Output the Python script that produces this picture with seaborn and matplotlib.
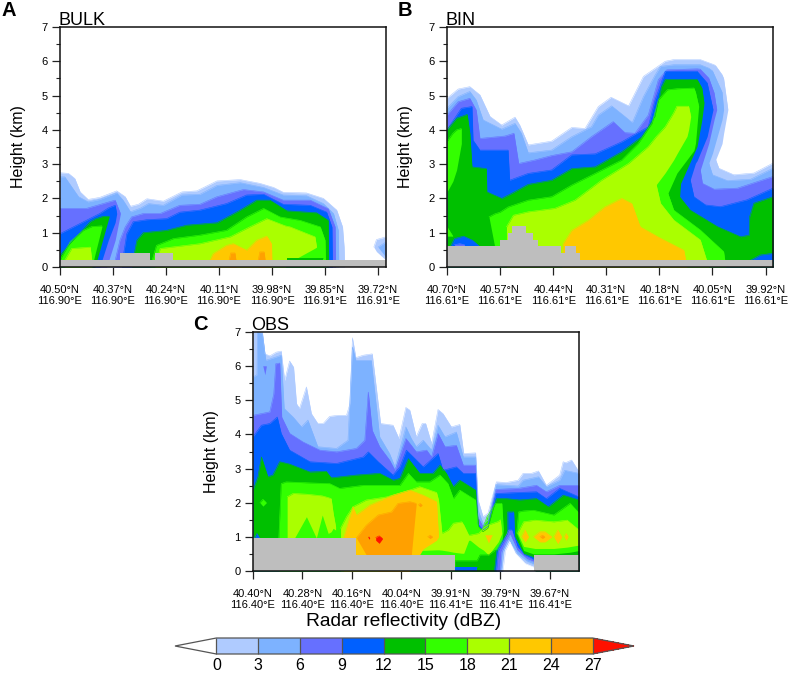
import numpy as np
import matplotlib
matplotlib.use('Agg')
import matplotlib.pyplot as plt
from matplotlib.cm import ScalarMappable
from matplotlib.colors import BoundaryNorm, ListedColormap
import seaborn as sns

# reflectivity classes, lightest first
level_bounds = [0, 3, 6, 9, 12, 15, 18, 21, 24, 27]
level_colors = ['#AFCBFF', '#7DB2FF', '#6670FF', '#0060FF', '#00C000',
                '#33FF00', '#AAFF00', '#FFC800', '#FFA000', '#FF1000']
WHITE = -1

a_lats = ['40.50', '40.37', '40.24', '40.11', '39.98', '39.85', '39.72']
a_lons = ['116.90', '116.90', '116.90', '116.90', '116.90', '116.91', '116.91']
b_lats = ['40.70', '40.57', '40.44', '40.31', '40.18', '40.05', '39.92']
b_lons = ['116.61'] * 7
c_lats = ['40.40', '40.28', '40.16', '40.04', '39.91', '39.79', '39.67']
c_lons = ['116.40', '116.40', '116.40', '116.40', '116.41', '116.41', '116.41']

# x is in units of the tick spacing, heights in km
a_ground_x = [0, 1.13, 1.70, 1.79, 2.14, 6.15]
a_ground_h = [.2, .4, .2, .4, .2, .2]
b_ground_x = [0, .99, 1.15, 1.23, 1.48, 1.62, 1.72, 2.14, 2.22, 2.43, 2.5, 6.14]
b_ground_h = [.6, .8, 1.0, 1.2, 1.0, .8, .6, .4, .6, .4, .2, .2]
c_ground_x = [0, 2.08, 4.08, 5.68, 6.59]
c_ground_h = [.97, .47, 0, .47, .47]

a_levels = [0, 0, 1, 1, 2, 2, 3, 3, 4, 4, 5, 5, 6, 6, 4, 7, 8, 8]
a_x = [
    [0, .16, .28, .38, .53, .75, 1.07, 1.23, 1.33, 1.48, 1.64, 1.95, 2.30, 2.58, 2.96, 3.40, 3.77, 4.03, 4.21, 4.65, 4.97, 5.22, 5.33, 5.36, 5.37],
    [5.92, 5.97, 6.15],
    [0, .09, .22, .35, .53, .75, 1.07, 1.19, 1.33, 1.51, 1.67, 1.95, 2.30, 2.64, 2.96, 3.40, 3.84, 4.21, 4.65, 4.97, 5.16, 5.25, 5.26],
    [6.0, 6.15],
    [0, .5, .88, 1.04, 1.14],
    [1.01, 1.13, 1.23, 1.35, 1.57, 1.89, 2.26, 2.64, 2.96, 3.46, 3.84, 4.21, 4.72, 5.06, 5.19, 5.2],
    [0, .38, .75, .91, 1.04, 1.07],
    [1.16, 1.26, 1.38, 1.64, 2.01, 2.26, 2.64, 3.14, 3.52, 3.84, 4.21, 4.72, 5.03, 5.13, 5.14],
    [0, .31, .57, .66, .82, .93],
    [1.35, 1.45, 1.57, 2.01, 2.39, 2.96, 3.40, 3.71, 3.96, 4.28, 4.84, 5.06, 5.07],
    [0, .19, .44, .6, .79],
    [1.70, 1.82, 2.14, 2.64, 3.14, 3.52, 3.84, 4.15, 4.53, 4.91, 5.0, 5.01],
    [.09, .22, .57, .6],
    [1.79, 1.89, 2.64, 3.21, 3.58, 3.90, 4.25, 4.34, 4.81, 4.84],
    [4.28, 4.97],
    [2.83, 2.89, 3.14, 3.27, 3.52, 3.71, 3.90, 3.99, 4.0],
    [3.19, 3.22, 3.30, 3.32],
    [3.74, 3.77, 3.85, 3.87],
]
a_top = [
    [2.75, 2.73, 2.58, 2.19, 1.97, 2.03, 2.22, 2.05, 1.77, 1.83, 1.99, 1.92, 2.19, 2.22, 2.51, 2.55, 2.44, 2.32, 2.18, 2.16, 2.0, 1.66, 1.17, .58, 0],
    [.58, .80, .88],
    [2.63, 2.63, 2.34, 2.05, 1.9, 1.97, 2.16, 1.95, 1.61, 1.71, 1.85, 1.8, 2.1, 2.12, 2.38, 2.46, 2.32, 2.1, 2.08, 1.85, 1.56, 1.07, 0],
    [.58, .73],
    [1.71, 1.71, 1.88, 1.95, 1.56],
    [0, .78, 1.17, 1.46, 1.56, 1.56, 1.8, 1.83, 2.05, 2.26, 2.19, 1.95, 1.95, 1.7, 1.17, 0],
    [.97, 1.27, 1.56, 1.72, 1.8, 1.56],
    [0, .97, 1.32, 1.38, 1.41, 1.6, 1.66, 1.85, 2.1, 2.12, 1.83, 1.8, 1.6, 1.17, 0],
    [.34, .88, 1.32, 1.4, 1.48, 1.48],
    [0, .78, 1.0, 1.07, 1.22, 1.29, 1.66, 1.95, 1.95, 1.64, 1.58, 1.36, 0],
    [.2, .73, 1.07, 1.18, 1.2],
    [0, .63, .83, .93, 1.07, 1.46, 1.71, 1.46, 1.36, 1.17, .78, 0],
    [.2, .54, .58, .2],
    [0, .54, .68, .88, 1.17, 1.41, 1.2, 1.17, .88, .58],
    [.27, .27],
    [.2, .39, .63, .68, .49, .78, .9, .68, 0],
    [.2, .41, .41, .2],
    [.2, .44, .44, .2],
]
a_low = {
    1: [.58, .45, .2],
    3: [.58, .28],
    4: [0, 0, 0, .78, 1.56],
    6: [0, 0, 0, .78, 1.3, 1.56],
    8: [0, 0, 0, 0, .88, 1.48],
    10: [0, 0, 0, 0, 1.17],
    13: [0, 0, 0, 0, 0, 0, 0, .15, .55, .58],
    14: [.2, .2],
}

b_levels = [0, 0, 1, 1, 2, 2, 3, 3, 4, 4, 5, 5, 5, 5, 6, 6, 7, 3, 2, 3]
b_x = [
    [0, .21, .43, .62, .81, 1.03, 1.28, 1.37, 1.53, 1.97, 2.35, 2.6, 2.85, 3.09, 3.42, 3.7, 4.11, 4.27, 4.77, 5.03, 5.06, 5.06, 5.18, 5.21, 5.29],
    [4.98, 5.06, 5.12, 5.4, 5.78, 6.14],
    [0, .21, .43, .55, .68, 1.03, 1.28, 1.4, 1.53, 1.97, 2.35, 2.72, 2.85, 3.1, 3.35, 3.49, 3.7, 3.92, 4.02, 4.27, 4.77, 4.93, 4.93, 5.0, 5.18, 5.21],
    [4.85, 4.93, 5.0, 5.28, 5.72, 6.14],
    [0, .21, .43, .55, .62, 1.09, 1.26, 1.35, 1.65, 1.97, 2.35, 2.72, 3.13, 3.35, 3.54, 3.79, 3.98, 4.14, 4.71, 4.77, 4.77, 4.93, 5.03, 5.08],
    [4.69, 4.77, 4.81, 5.03, 5.47, 6.14],
    [0, .27, .47, .49, .62, 1.15, 1.18, 1.53, 1.97, 2.35, 2.79, 3.29, 3.79, 3.92, 4.11, 4.58, 4.58, 4.68, 4.71, 4.9, 5.01],
    [4.5, 4.58, 4.65, 4.87, 5.15, 5.65, 6.14],
    [0, .18, .38, .43, .47, .74, .75, 1.03, 1.21, 1.53, 1.97, 2.35, 2.79, 3.29, 3.67, 3.92, 4.04, 4.11, 4.38, 4.38, 4.4, 4.71, 4.8, 4.84],
    [4.3, 4.38, 4.58, 5.09, 5.53, 5.69, 5.7, 5.78, 6.14],
    [0, .11, .18, .27],
    [0, .11],
    [.79, .9, 1.0, 1.15, 1.53, 1.97, 2.35, 2.79, 3.29, 3.6, 3.86, 3.98, 4.15, 4.16, 4.16, 4.33, 4.65, 4.68, 4.74],
    [4.08, 4.16, 4.27, 4.77, 5.21, 5.25],
    [1.12, 1.25, 1.53, 2.03, 2.41, 2.91, 3.42, 3.79, 3.94, 3.94, 4.11, 4.27, 4.33, 4.52, 4.55, 4.59],
    [3.86, 3.94, 4.02, 4.27, 4.77, 4.93],
    [2.16, 2.19, 2.35, 2.66, 2.97, 3.29, 3.48, 3.64, 4.02, 4.46, 4.52],
    [.05, .14, .31, .48, .65],
    [.14, .24, .33],
    [5.72, 5.9, 6.14],
]
b_top = [
    [4.92, 5.19, 5.26, 5.02, 4.39, 4.14, 4.37, 4.14, 3.56, 3.67, 4.07, 4.04, 4.68, 4.95, 4.7, 5.56, 6.0, 6.05, 6.05, 5.9, 5.87, 5.87, 5.61, 5.5, 4.59],
    [3.13, 3.13, 2.88, 2.69, 2.74, 3.03],
    [4.63, 4.97, 5.12, 4.87, 4.29, 4.02, 4.19, 3.9, 3.33, 3.41, 3.8, 4.09, 4.43, 4.7, 4.39, 4.21, 4.97, 5.6, 5.85, 5.9, 5.9, 5.8, 5.8, 5.72, 5.1, 4.59],
    [3.03, 3.03, 2.69, 2.52, 2.56, 2.88],
    [4.43, 4.82, 4.92, 4.58, 3.75, 3.82, 3.9, 3.02, 3.12, 3.25, 3.36, 3.8, 4.24, 3.92, 3.9, 4.43, 5.46, 5.75, 5.78, 5.77, 5.77, 5.51, 5.08, 4.59],
    [2.83, 2.83, 2.44, 2.27, 2.3, 2.64],
    [4.0, 4.63, 4.68, 3.7, 3.41, 3.41, 2.53, 2.73, 2.83, 3.27, 3.3, 3.65, 4.09, 4.87, 5.71, 5.71, 5.71, 5.71, 5.71, 5.37, 4.59],
    [2.54, 2.54, 2.05, 1.81, 1.76, 1.96, 2.3],
    [4.0, 4.34, 4.45, 3.9, 2.92, 2.87, 2.19, 2.0, 2.14, 2.41, 2.53, 2.87, 2.92, 3.36, 3.8, 4.39, 5.26, 5.47, 5.47, 5.47, 5.47, 5.47, 5.22, 4.78],
    [2.05, 2.05, 1.66, 1.18, .88, .93, 1.47, 1.86, 2.05],
    [3.66, 3.9, 4.0, 4.04],
    [1.17, .9],
    [1.46, 1.55, 1.6, 1.75, 1.95, 2.05, 2.39, 2.73, 3.12, 3.6, 4.19, 4.87, 5.17, 5.17, 5.17, 5.2, 5.22, 5.1, 4.69],
    [2.15, 2.15, 1.66, 1.08, .45, 0],
    [1.17, 1.51, 1.61, 1.71, 1.95, 2.53, 3.02, 3.51, 3.8, 3.8, 4.09, 4.5, 4.69, 4.69, 4.69, 4.39],
    [2.4, 2.4, 1.86, 1.37, .79, 0],
    [0, .68, 1.07, 1.36, 1.75, 2.0, 1.85, 1.17, .84, .49, 0],
    [.55, .83, .9, .78, .55],
    [.65, .68, .65],
    [.2, .35, .4],
]
b_low = {
    0: [0] * 21 + [3.13, 3.6, 3.9, 4.59],
    2: [0] * 22 + [3.03, 3.32, 4.3, 4.59],
    4: [0] * 20 + [2.83, 3.61, 4.3, 4.59],
    6: [0] * 16 + [2.54, 3.03, 3.1, 3.81, 4.59],
    8: [0] * 19 + [2.05, 2.44, 3.52, 4.3, 4.78],
    10: [2.19, 2.5, 2.83, 3.6],
    11: [.9, .9],
    12: [1.46, .58] + [0] * 12 + [2.15, 2.74, 3.4, 3.61, 4.69],
    14: [0] * 9 + [2.4, 2.75, 3.13, 3.3, 3.81, 4.0, 4.39],
    17: [.55, .55, .55, .55, .55],
    18: [.55, .55, .55],
    19: [.15, .15, .15],
}

c_levels = [0, 1, 2, 2, 3, 4, 5, 5, 5, 4, 3, 3, 6, 6, 6, 7, 8, 9, 9, 7, 7, 7, 7, 7,
            8, 8, 8, 3, 2, 1, 0, WHITE]
c_x = [
    [0, .19, .24, .34, .47, .57, .64, .74, .82, .88, .94, 1.08, 1.18, 1.31, 1.42, 1.55, 1.72, 1.89, 1.96, 2.01, 2.08, 2.23, 2.41, 2.58, 2.83, 2.95, 3.09, 3.17, 3.3, 3.42, 3.49, 3.61, 3.74, 3.84, 4.01, 4.18, 4.26, 4.5, 4.55, 4.65, 4.75, 4.92, 5.12, 5.36, 5.46, 5.63, 5.77, 5.93, 6.2, 6.27, 6.32, 6.44, 6.57, 6.59],
    [0, .08, .09, .19, .26, .47, .57, .63, .81, .98, 1.11, 1.31, 1.69, 1.92, 2.01, 2.08, 2.39, 2.56, 2.76, 2.87, 3.09, 3.2, 3.3, 3.44, 3.61, 3.74, 3.88, 4.11, 4.25, 4.5, 4.55, 4.65, 4.75, 4.91, 5.36, 5.46, 5.77, 5.93, 6.2, 6.3, 6.59],
    [0, .34, .42, .46, .54, .58, .74, 1.01, 1.35, 1.69, 2.09, 2.26, 2.33, 2.41, 2.56, 2.76, 2.87, 3.09, 3.2, 3.3, 3.51, 3.61, 3.74, 3.88, 4.11, 4.25, 4.5, 4.54, 4.65, 4.75, 4.91, 5.36, 5.73, 5.93, 6.2, 6.59],
    [.2, .24, .27],
    [0, .17, .34, .49, .57, .74, 1.15, 1.69, 2.23, 2.33, 2.53, 2.83, 2.97, 3.1, 3.24, 3.44, 3.74, 3.84, 4.11, 4.25, 4.5, 4.54, 4.65, 4.75, 4.91, 5.36, 5.73, 5.93, 6.2, 6.59],
    [0, .1, .17, .3, .4, .54, .74, 1.15, 1.48, 1.58, 2.09, 2.56, 2.83, 2.97, 3.14, 3.37, 3.64, 3.78, 3.91, 4.05, 4.18, 4.5, 4.56, 4.65, 4.75, 4.92, 5.12, 5.39, 5.73, 5.97, 6.27, 6.59],
    [.52, .57, .67, 1.15, 1.55, 1.75, 2.23, 2.76, 2.97, 3.14, 3.3, 3.57, 3.78, 3.94, 4.05, 4.18, 4.5, 4.55, 4.63, 4.73, 4.9, 4.96, 5.03, 5.06],
    [5.33, 5.37, 5.47, 5.67, 6.08, 6.41, 6.59],
    [.14, .2, .27],
    [4.08, 4.53, 4.59, 4.76, 4.9, 4.96],
    [4.09, 4.53],
    [.03, .08, .13],
    [.69, .81, .84, 1.08, 1.28, 1.4, 1.52, 1.58, 1.62, 1.67],
    [1.77, 1.89, 2.02, 2.29, 2.7, 3.17, 3.37, 3.71, 3.75, 3.82, 3.95, 4.05, 4.22, 4.26, 4.36, 4.39, 4.56, 4.66, 4.76, 4.96, 5.0, 5.03],
    [5.35, 5.47, 5.7, 6.08, 6.35, 6.59],
    [1.83, 2.02, 2.09, 2.36, 2.83, 3.17, 3.44, 3.71, 3.75],
    [2.09, 2.29, 2.53, 2.8, 2.93, 3.17, 3.2, 3.3],
    [2.48, 2.55, 2.62],
    [2.33, 2.345, 2.36],
    [5.43, 5.5, 5.57],
    [5.67, 5.8, 5.9, 6.04],
    [6.08, 6.16, 6.24],
    [6.29, 6.33, 6.37],
    [4.69, 4.76, 4.83],
    [3.53, 3.58, 3.63],
    [3.34, 3.38, 3.42],
    [5.8, 5.85, 5.9],
    [4.88, 4.93, 5.03, 5.15, 5.15, 5.27, 5.29, 5.47, 5.67],
    [4.92, 4.96, 5.06, 5.17, 5.23, 5.34, 5.48, 5.67],
    [5.0, 5.03, 5.12, 5.2, 5.34, 5.54, 5.7],
    [5.03, 5.06, 5.17, 5.34, 5.54, 5.7],
    [5.05, 5.1, 5.19, 5.3, 5.5, 5.7],
]
c_top = [
    [7, 7, 6.36, 6.3, 6.41, 6.44, 5.58, 6.15, 5.97, 4.9, 4.76, 5.39, 4.61, 4.32, 4.32, 4.53, 4.56, 4.56, 4.9, 6.83, 6.25, 6.32, 6.36, 4.32, 4.27, 3.88, 4.79, 4.71, 3.93, 4.32, 4.32, 3.73, 4.73, 4.61, 4.22, 4.29, 3.44, 3.46, 2.08, 1.59, 1.69, 2.61, 2.59, 2.66, 2.86, 2.86, 2.93, 2.51, 2.81, 3.2, 3.17, 3.25, 2.95, 2.86],
    [5.68, 5.75, 7, 6.95, 6.17, 6.27, 6.32, 4.76, 4.51, 4.22, 4.42, 3.64, 3.59, 3.83, 6.56, 6.17, 6.17, 3.93, 3.44, 3.05, 4.22, 3.88, 3.64, 3.83, 3.54, 4.27, 3.93, 4.07, 3.34, 3.34, 1.78, 1.39, 1.49, 2.53, 2.49, 2.66, 2.76, 2.47, 2.66, 2.95, 2.86],
    [4.56, 4.66, 5.19, 6.07, 6.09, 4.51, 4.03, 3.78, 3.54, 3.49, 3.59, 3.83, 5.24, 4.12, 3.64, 3.25, 2.95, 3.88, 3.68, 3.49, 3.54, 3.34, 4.03, 3.64, 3.68, 3.1, 3.1, 1.59, 1.3, 1.39, 2.39, 2.42, 2.51, 2.32, 2.51, 2.51],
    [6.0, 6.0, 6.0],
    [3.93, 4.27, 4.32, 4.51, 4.03, 3.54, 3.2, 3.15, 3.34, 3.49, 3.2, 2.81, 3.05, 3.54, 3.34, 3.05, 3.44, 2.95, 3.05, 2.86, 2.86, 1.39, 1.2, 1.3, 2.27, 2.3, 2.32, 2.12, 2.42, 2.17],
    [2.37, 2.76, 3.34, 2.76, 2.81, 3.2, 3.13, 2.9, 2.92, 2.73, 2.81, 2.86, 2.66, 2.71, 3.29, 2.86, 2.86, 3.1, 2.86, 2.47, 2.66, 2.37, 1.3, 1.15, 1.25, 2.12, 2.12, 2.08, 2.12, 1.88, 2.22, 2.08],
    [.9, 2.56, 2.61, 2.58, 2.56, 2.42, 2.51, 2.51, 2.51, 2.86, 2.61, 2.61, 2.81, 2.56, 2.12, 2.37, 2.08, 1.3, 1.2, 1.59, 1.98, 1.98, 1.98, 1.2],
    [1.1, 1.73, 1.76, 1.78, 1.64, 1.98, 1.7],
    [2.0, 2.1, 2.0],
    [.3, .3, .47, .47, .61, .61],
    [.13, .13],
    [.97, 1.1, .97],
    [2.17, 2.27, 2.27, 2.25, 2.22, 2.2, 2.15, 2.12, 1.7, 1.3],
    [1.25, 1.59, 1.88, 2.08, 2.17, 2.37, 2.47, 2.3, 2.08, 1.1, 1.2, 1.4, 1.44, 1.35, 1.05, 1.05, 1.1, 1.25, 1.35, 1.45, 1.5, 1.1],
    [1.1, 1.44, 1.49, 1.44, 1.49, 1.2],
    [.97, 1.88, 1.64, 1.93, 2.22, 2.37, 2.22, 2.03, 1.0],
    [.97, 1.34, 1.64, 1.73, 1.98, 2.03, 2.02, 1.98],
    [.98, 1.03, .95],
    [.97, 1.0, .97],
    [1.0, 1.2, 1.0],
    [1.0, 1.15, 1.15, 1.0],
    [1.0, 1.2, 1.0],
    [1.0, 1.1, 1.0],
    [1.05, 1.05, 1.05],
    [1.0, 1.05, 1.0],
    [1.93, 1.98, 1.93],
    [1.0, 1.05, 1.0],
    [0, .61, .86, 1.1, 1.73, 1.73, 1.0, .5, .4],
    [0, .6, .86, 1.2, 1.2, .71, .47, .33],
    [0, .56, .86, 1.05, .6, .34, .25],
    [0, .56, .9, .5, .27, .17],
    [0, .6, .86, .52, .22, .1],
]
c_low = {
    3: [6.0, 5.75, 6.0],
    6: [0] * 20 + [.61, .61, .85, 1.2],
    7: [1.1, .95, .6, .5, .5, .55, .6],
    8: [2.0, 1.9, 2.0],
    11: [.97, .97, .97],
    12: [.97, .97, .97, 1.59, .97, 1.64, 1.1, 1.15, 1.25, 1.2],
    13: [0] * 6 + [.6, .62, .62, .61, .58, .55, .52, .52, .9, .9, .7, .61, .47, .86, 1.0, 1.1],
    14: [1.1, .72, .66, .66, .7, .76],
    15: [0, 0, 0, 0, 0, 0, .65, .9, 1.0],
    16: [.97, .47, 0, 0, 0, 0, .47, 1.98],
    17: [.9, .81, .95],
    18: [.97, .93, .97],
    19: [1.0, .85, 1.0],
    20: [1.0, .85, .85, 1.0],
    21: [1.0, .8, 1.0],
    22: [1.0, .9, 1.0],
    23: [1.05, .82, 1.05],
    24: [1.0, .95, 1.0],
    25: [1.93, 1.88, 1.93],
    26: [1.0, .95, 1.0],
}

FIG_W, FIG_H = 789, 673
sns.set_style('ticks')
plt.rcParams['font.family'] = ['Liberation Sans', 'DejaVu Sans']
plt.rcParams['text.color'] = 'black'
plt.rcParams['axes.labelcolor'] = 'black'
plt.rcParams['xtick.color'] = 'black'
plt.rcParams['ytick.color'] = 'black'
palette = sns.color_palette(level_colors)


def axes_from_pixels(fig, left, top, right, bottom):
    return fig.add_axes([left / FIG_W, 1 - bottom / FIG_H,
                         (right - left) / FIG_W, (bottom - top) / FIG_H])


def draw_panel(ax, levels, xs, tops, lows, ground_x, ground_h, lats, lons, xmax, title, letter, letter_dx, letter_dy):
    for i, (level, x, top) in enumerate(zip(levels, xs, tops)):
        low = lows.get(i, [0] * len(x))
        color = 'white' if level == WHITE else palette[level]
        ax.fill_between(x, low, top, color=color, linewidth=0)
        sns.lineplot(x=x, y=top, color=color, linewidth=.4, estimator=None, sort=False, ax=ax, legend=False)
    ax.fill_between(ground_x, 0, ground_h, step='post', color='#BEBEBE', linewidth=0, zorder=3)
    ax.set_xlim(0, xmax)
    ax.set_ylim(0, 7)
    ax.set_xticks(range(7))
    ax.set_xticklabels([f'{la}°N\n{lo}°E' for la, lo in zip(lats, lons)], fontsize=8, linespacing=1.1)
    ax.set_yticks(range(8))
    ax.set_yticks(np.arange(.5, 7, 1), minor=True)
    ax.tick_params(axis='both', which='major', length=5.8, width=.9, labelsize=8, color='#222222', pad=3)
    ax.tick_params(axis='x', pad=7)
    ax.tick_params(axis='y', which='minor', length=2.8, width=.8, color='#222222')
    ax.set_ylabel('Height (km)', fontsize=11.5)
    ax.yaxis.set_label_coords(-.104, .5)
    ax.text(-.005, 1.008, title, transform=ax.transAxes, fontsize=13, va='baseline', ha='left')
    ax.text(letter_dx, letter_dy, letter, transform=ax.transAxes, fontsize=14.5, fontweight='bold', va='center', ha='left')
    for side in ax.spines.values():
        side.set_linewidth(1.1)
        side.set_color('#111111')
        side.set_zorder(5)


fig = plt.figure(figsize=(FIG_W / 100, FIG_H / 100), dpi=100)
ax_a = axes_from_pixels(fig, 60, 27, 386, 267)
ax_b = axes_from_pixels(fig, 447, 27, 773, 267)
ax_c = axes_from_pixels(fig, 253, 332, 579, 571)
draw_panel(ax_a, a_levels, a_x, a_top, a_low, a_ground_x, a_ground_h, a_lats, a_lons, 6.15, 'BULK', 'A', -.18, 1.07)
draw_panel(ax_b, b_levels, b_x, b_top, b_low, b_ground_x, b_ground_h, b_lats, b_lons, 6.14, 'BIN', 'B', -.15, 1.07)
draw_panel(ax_c, c_levels, c_x, c_top, c_low, c_ground_x, c_ground_h, c_lats, c_lons, 6.59, 'OBS', 'C', -.185, 1.03)

cmap = ListedColormap(level_colors[:-1])
cmap.set_under('white')
cmap.set_over(level_colors[-1])
norm = BoundaryNorm(level_bounds, cmap.N)
cax = axes_from_pixels(fig, 175, 638, 634, 654)
cbar = fig.colorbar(ScalarMappable(norm=norm, cmap=cmap), cax=cax, orientation='horizontal',
                    extend='both', extendfrac=.11, spacing='uniform', drawedges=True)
cbar.set_ticks(level_bounds)
cbar.ax.tick_params(length=0, labelsize=11.5, pad=3)
cbar.dividers.set_color('#555555')
cbar.dividers.set_linewidth(.9)
cbar.outline.set_edgecolor('#555555')
cbar.outline.set_linewidth(.9)
fig.text(404 / FIG_W, 1 - 622 / FIG_H, 'Radar reflectivity (dBZ)', fontsize=13.8, ha='center', va='center')

fig.savefig('out.png', dpi=100)
